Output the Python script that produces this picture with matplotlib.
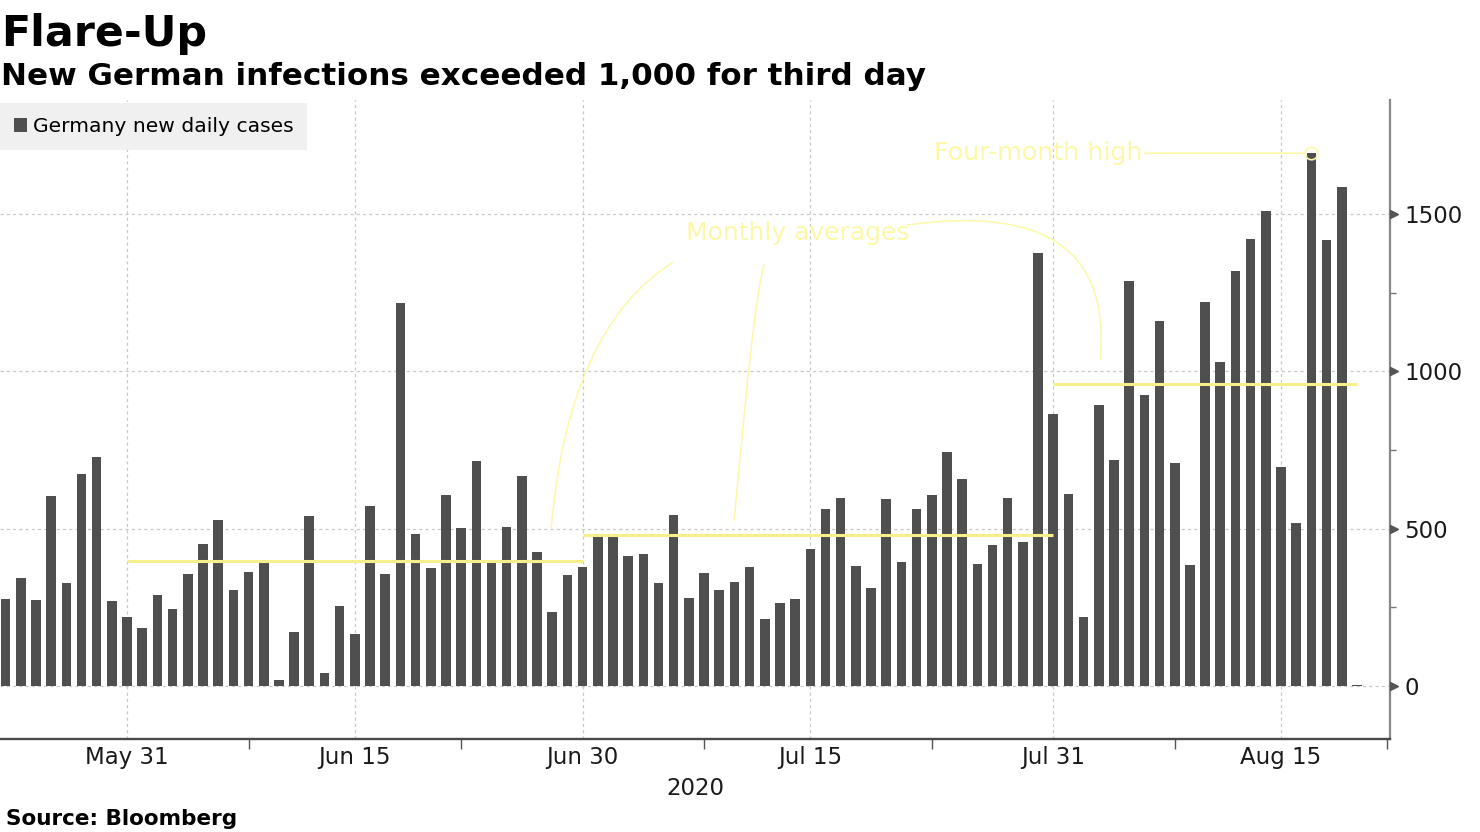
import numpy as np
import pandas as pd
import matplotlib
matplotlib.use('Agg')
import matplotlib.pyplot as plt
import matplotlib.dates as mdates
from matplotlib.ticker import FixedLocator

# daily new cases, May 23 - Aug 20 2020
dates = pd.date_range('2020-05-23', '2020-08-20', freq='D')
new_cases = [276, 343, 272, 603, 327, 673, 727, 269, 221,
             186, 289, 246, 355, 453, 528, 304, 363, 394, 18,
             172, 539, 41, 253, 167, 571, 355, 1216, 484, 375,
             606, 501, 715, 393, 504, 668, 426, 237, 352, 378,
             476, 476, 414, 421, 327, 542, 281, 359, 304, 332,
             379, 214, 265, 276, 437, 563, 597, 382, 311, 594,
             394, 563, 606, 744, 657, 389, 449, 597, 457, 1377, 864,
             609, 218, 892, 719, 1287, 926, 1159, 708, 384, 1220,
             1030, 1320, 1421, 1508, 697, 517, 1693, 1418, 1585, 3]

# monthly averages (Jun, Jul, Aug)
avg_values = [397, 479, 960]
avg_start = ['2020-05-31', '2020-06-30', '2020-07-31']
avg_end = ['2020-06-30', '2020-07-31', '2020-08-20']

tick_dates = ['2020-05-31', '2020-06-15', '2020-06-30', '2020-07-15', '2020-07-31', '2020-08-15']
tick_labels = ['May 31', 'Jun 15', 'Jun 30', 'Jul 15', 'Jul 31', 'Aug 15']
minor_dates = ['2020-06-08', '2020-06-22', '2020-07-08', '2020-07-23', '2020-08-08', '2020-08-22']
yticks = [0, 500, 1000, 1500]

BAR = '#4f4f4f'
YEL = '#f6ef8c'
PALE = '#fcf8a8'

plt.rcParams['font.family'] = 'DejaVu Sans'

def dn(s):
    return mdates.date2num(pd.Timestamp(s))

def day(n):
    # days after May 31
    return dn('2020-05-31') + n

fig = plt.figure(figsize=(14.8, 8.32), dpi=100)
ax = fig.add_axes([0, 0.1118, 0.9392, 0.7680])

x = mdates.date2num(dates)
bars = ax.bar(x, new_cases, width=0.63, color=BAR, zorder=2)

for v, s, e in zip(avg_values, avg_start, avg_end):
    ax.hlines(v, dn(s), dn(e), color=YEL, lw=2.2, zorder=3)

ax.set_xlim(day(-8.37), day(83.18))
ax.set_ylim(-168, 1862)

ax.set_xticks([dn(d) for d in tick_dates])
ax.set_xticklabels(tick_labels)
ax.xaxis.set_minor_locator(FixedLocator([dn(d) for d in minor_dates]))
ax.tick_params(axis='x', which='major', length=0, pad=5, labelsize=16.5, labelcolor='#1a1a1a')
ax.tick_params(axis='x', which='minor', length=7, width=1, color='#555555', direction='out')

ax.yaxis.tick_right()
ax.set_yticks(yticks)
ax.set_yticks([250, 750, 1250], minor=True)
ax.tick_params(axis='y', which='major', length=0, pad=10.5, labelsize=16.5, labelcolor='#1a1a1a')
ax.tick_params(axis='y', which='minor', length=4, width=1, color='#777777', direction='out')
ax.plot(np.full(len(yticks), 1.003), yticks, ls='none', marker='>', ms=5.5, color='#555555',
        transform=ax.get_yaxis_transform(), clip_on=False, zorder=5)

ax.set_axisbelow(True)
ax.grid(True, which='major', color='#c8c8c8', lw=0.9, ls=(0, (2.5, 2.5)))

for s in ['top', 'left']:
    ax.spines[s].set_visible(False)
ax.spines['bottom'].set_color('#4a4a4a')
ax.spines['bottom'].set_linewidth(1.7)
ax.spines['right'].set_color('#888888')
ax.spines['right'].set_linewidth(1.6)

ax.set_xlabel('2020', fontsize=16.5, color='#1a1a1a', labelpad=6)

ax.legend(handles=[bars], labels=['Germany new daily cases'], loc='upper left',
          bbox_to_anchor=(0, 0.995), borderaxespad=0, fontsize=14.6, frameon=True,
          fancybox=False, facecolor='#f0f0f0', edgecolor='none', framealpha=1,
          handlelength=0.65, handleheight=0.65, handletextpad=0.3, borderpad=0.68)

# peak annotation
i = int(np.argmax(new_cases))
ax.plot(x[i], new_cases[i], marker='o', ms=9, mfc='none', mec=PALE, mew=1.2, zorder=4)
ax.annotate('Four-month high', xy=(x[i], new_cases[i]), xytext=(day(66.86), new_cases[i]),
            ha='right', va='center', fontsize=18.3, color=PALE,
            arrowprops=dict(arrowstyle='-', color=PALE, lw=1.2, shrinkA=0, shrinkB=4.5))

# monthly averages annotation
ax.text(day(44.2), 1440, 'Monthly averages', ha='center', va='center', fontsize=18, color=PALE)
curves = [((day(35.97), 1347), (day(27.93), 502), 32, 85),
          ((day(41.96), 1338), (day(39.99), 527), 72, 85),
          ((day(51.4), 1465), (day(64.1), 1039), 8, 85)]
for start, end, a, b in curves:
    ax.annotate('', xy=end, xytext=start,
                arrowprops=dict(arrowstyle='-', color=PALE, lw=1.1, shrinkA=0, shrinkB=0,
                                connectionstyle='angle3,angleA=%d,angleB=%d' % (a, b)))

fig.text(0.001, 0.9447, 'Flare-Up', fontsize=30.8, fontweight='bold', va='baseline', color='black')
fig.text(0.001, 0.8978, 'New German infections exceeded 1,000 for third day', fontsize=22.3,
         fontweight='bold', va='baseline', color='black')
fig.text(0.004, 0.0084, 'Source: Bloomberg', fontsize=15.5, fontweight='bold', va='baseline', color='black')

fig.savefig('out.png', dpi=100)
